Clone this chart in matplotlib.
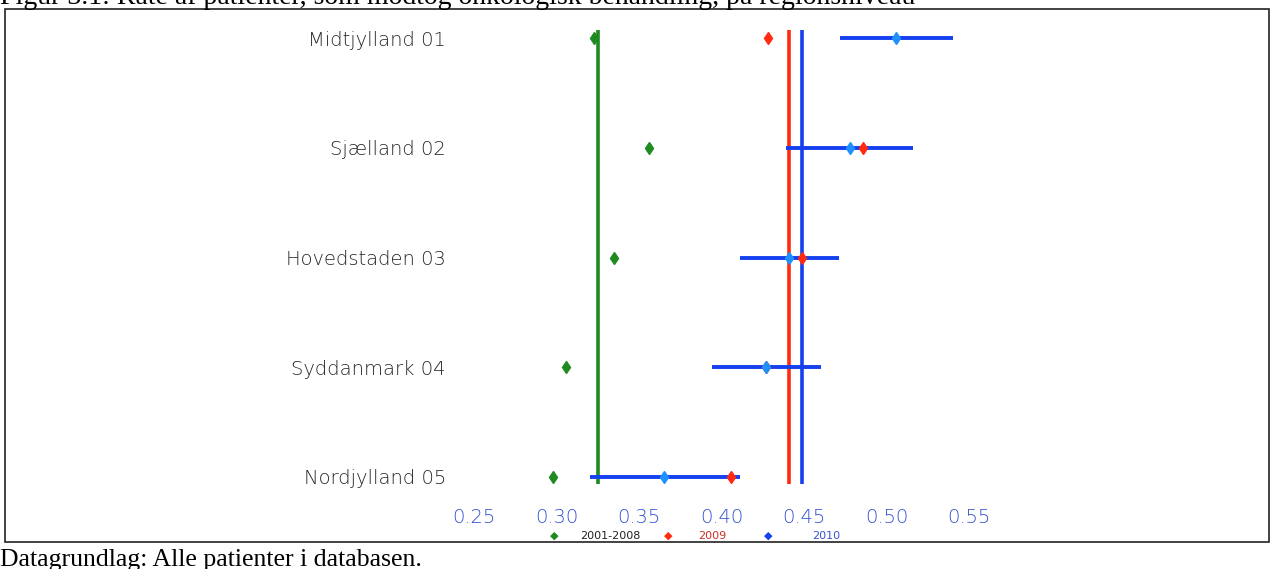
import numpy as np
import matplotlib.pyplot as plt
from matplotlib.patches import Rectangle

regions = ["Midtjylland 01", "Sjælland 02", "Hovedstaden 03", "Syddanmark 04", "Nordjylland 05"]
rate_2001_2008 = [0.323, 0.356, 0.335, 0.306, 0.298]
rate_2009 = [0.428, 0.486, 0.449, 0.427, 0.406]
rate_2010 = [0.506, 0.478, 0.441, 0.427, 0.365]
ci_low_2010 = [0.472, 0.439, 0.411, 0.394, 0.320]
ci_high_2010 = [0.540, 0.516, 0.471, 0.460, 0.411]
overall = {"2001-2008": 0.325, "2009": 0.441, "2010": 0.449}
xticks = [0.25, 0.30, 0.35, 0.40, 0.45, 0.50, 0.55]

green = "#1f8a1f"
red = "#ff2a10"
blue = "#1440f0"
lightblue = "#1e90ff"
W, H = 1271, 569

fig = plt.figure(figsize=(W / 100, H / 100), dpi=100)
# axes placed in pixel coords: x 450..1000, y 20..500 from top
ax = fig.add_axes([450 / W, 1 - 500 / H, 550 / W, 480 / H])
px_per_unit = 1650.0
ax.set_xlim(0.25 - 24 / px_per_unit, 0.25 + 526 / px_per_unit)
ax.set_ylim(4 + 23 / 109.75, -18 / 109.75)

y = np.arange(len(regions))

# overall reference lines
ax.vlines(overall["2001-2008"], -0.073, 4.064, color=green, lw=2.6, zorder=2)
ax.vlines(overall["2009"], -0.073, 4.064, color=red, lw=2.6, zorder=2)
ax.vlines(overall["2010"], -0.073, 4.064, color=blue, lw=2.6, zorder=2)

# confidence intervals 2010
ax.hlines(y, ci_low_2010, ci_high_2010, color=blue, lw=2.8, zorder=3)

ax.plot(rate_2001_2008, y, "d", color=green, ms=6, mec=green, zorder=4)
ax.plot(rate_2009, y, "d", color=red, ms=6, mec=red, zorder=4)
ax.plot(rate_2010, y, "d", color=lightblue, ms=6, mec=lightblue, zorder=5)

ax.set_yticks(y)
ax.set_yticklabels(regions, fontsize=14, color="#262626", fontweight="light")
ax.set_xticks(xticks)
ax.set_xticklabels([f"{t:.2f}" for t in xticks], fontsize=14, color="#3050d0",
                   fontweight="light")
ax.tick_params(length=0, axis="y", pad=3)
ax.tick_params(length=0, axis="x", pad=6)
for s in ax.spines.values():
    s.set_visible(False)

# frame around the chart
fig.patches.append(Rectangle((5 / W, 1 - 542 / H), 1264 / W, 533 / H,
                             transform=fig.transFigure, fill=False,
                             edgecolor="#222222", lw=1.2))

# legend below axis
leg_y = 1 - 536 / H
fig.text(554 / W, leg_y, "\u25c6", color=green, fontsize=8, ha="center", va="center")
fig.text(580 / W, leg_y, "2001-2008", color="#222222", fontsize=8, ha="left", va="center")
fig.text(668 / W, leg_y, "\u25c6", color=red, fontsize=8, ha="center", va="center")
fig.text(698 / W, leg_y, "2009", color="#d03020", fontsize=8, ha="left", va="center")
fig.text(768 / W, leg_y, "\u25c6", color=blue, fontsize=8, ha="center", va="center")
fig.text(812 / W, leg_y, "2010", color="#3a55c8", fontsize=8, ha="left", va="center")

# title is cut at the top edge, as in the original page crop
fig.text(0, 1 - 4 / H, "Figur 3.1: Rate af patienter, som modtog onkologisk behandling, på regionsniveau",
         family="Liberation Serif", fontsize=20, ha="left", va="baseline")
fig.text(0, 1 - 566 / H, "Datagrundlag: Alle patienter i databasen.",
         family="Liberation Serif", fontsize=18.5, ha="left", va="baseline")

fig.savefig("out.png", dpi=100)
